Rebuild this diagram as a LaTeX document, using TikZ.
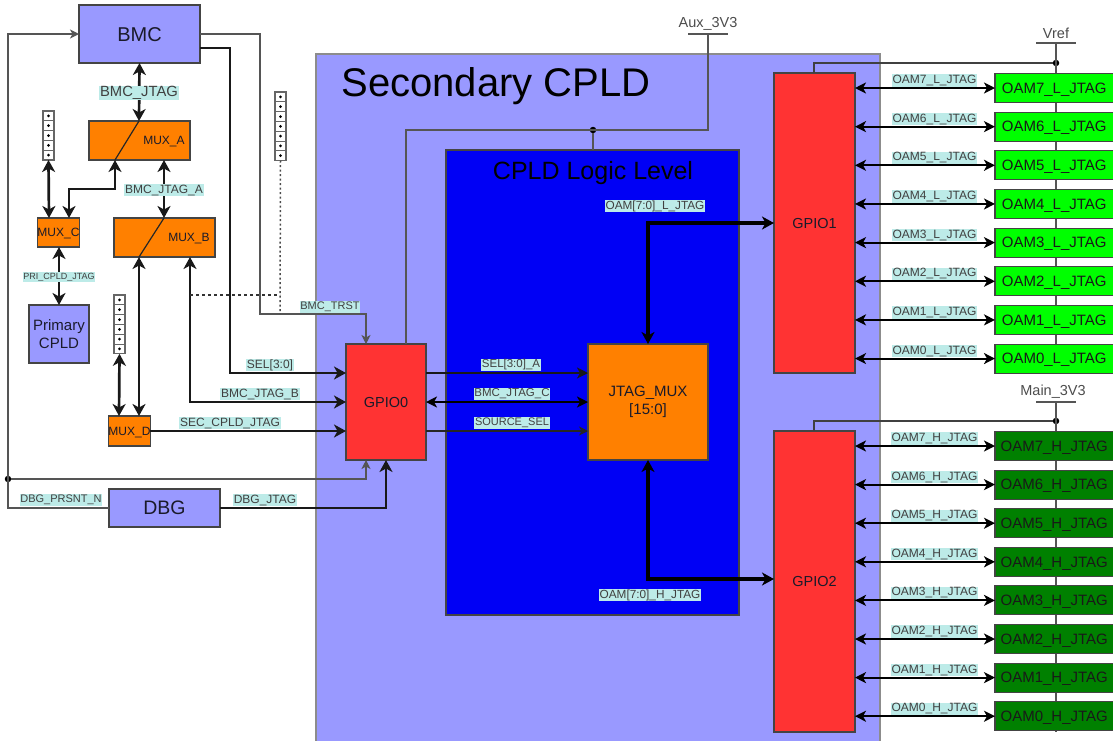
\documentclass[tikz,border=0pt]{standalone}
\usepackage{fontspec}
\setmainfont{Liberation Sans}
\usetikzlibrary{arrows.meta,calc}
\definecolor{peri}{HTML}{9999FF}
\definecolor{cred}{HTML}{FF3333}
\definecolor{corange}{HTML}{FF8000}
\definecolor{cgreen}{HTML}{00FF00}
\definecolor{dgreen}{HTML}{008000}
\definecolor{cblue}{HTML}{0000F5}
\definecolor{lbl}{HTML}{BDEBE8}
\definecolor{edge}{HTML}{444444}
\definecolor{wirec}{HTML}{555555}
\definecolor{txt}{HTML}{1A1A2A}
\newcommand{\fs}[1]{\fontsize{#1}{#1}\selectfont}
% \bx{name}{x1}{y1}{x2}{y2}{style}{text}
\newcommand{\bx}[7]{%
  \pgfmathsetmacro{\bw}{#4-#2}\pgfmathsetmacro{\bh}{#5-#3}%
  \pgfmathsetmacro{\bcx}{(#2+#4)/2}\pgfmathsetmacro{\bcy}{(#3+#5)/2}%
  \node[basebox,#6,minimum width=\bw pt,minimum height=\bh pt] (#1) at (\bcx,\bcy) {#7};}
% \hdr{name}{x1}{y1}{cells}
\newcommand{\hdr}[4]{%
  \pgfmathsetmacro{\hh}{#4*9.8}\pgfmathsetmacro{\hcx}{#2+5.5}\pgfmathsetmacro{\hcy}{#3+\hh/2}%
  \node[basebox,fill=white,draw=black!60,line width=1.1pt,minimum width=11pt,minimum height=\hh pt] (#1) at (\hcx,\hcy) {};
  \foreach \c in {1,...,#4}{
    \pgfmathsetmacro{\py}{#3+(\c-0.5)*9.8}\pgfmathsetmacro{\ly}{#3+\c*9.8}
    \fill[black] (\hcx,\py) circle (1.5pt);
    \ifnum\c<#4 \draw[black!60,line width=.8pt] (#2,\ly) -- ++(11,0);\fi
  }}
\tikzset{
  x=1pt,y=-1pt,
  basebox/.style={rectangle,inner sep=0pt,outer sep=0pt,draw=edge,line width=1.1pt,align=center,text=txt},
  onel/.style={font=\fs{#1},text height={0.8*#1 pt},text depth={0.1*#1 pt}},
  lab/.style={fill=lbl,inner sep=.8pt,text=black!75,font=\fs{12},anchor=center,yshift=-1pt},
  thin wire/.style={draw=wirec,line width=1.3pt},
  dark wire/.style={draw=black!85,line width=1.1pt},
  thick wire/.style={draw=black!90,line width=2.7pt},
  mid wire/.style={draw=black,line width=2.1pt},
  big/.tip={Stealth[length=12pt,width=13pt,inset=3.5pt]},
  med/.tip={Stealth[length=11pt,width=11pt,inset=3pt]},
  small/.tip={Stealth[length=9pt,width=9pt,inset=2.5pt]},
  dotn/.style={circle,fill=black,draw=none,inner sep=0pt,minimum size=6.5pt},
  railbar/.style={draw=wirec,line width=1.3pt},
  railtxt/.style={text=black!70,font=\fs{14.5},inner sep=0pt},
}
\begin{document}
\begin{tikzpicture}
\useasboundingbox (0,0) rectangle (1113,740);
% containers
\bx{sec}{316}{54}{880}{742}{fill=peri,draw=black!45}{}
\node[font=\fs{40},text=black,inner sep=0pt] (sectitle) at (496,86) {Secondary CPLD};
\bx{logic}{446}{150}{739}{615}{fill=cblue,draw=edge}{}
\node[font=\fs{25},text=black,inner sep=0pt] (logictitle) at (593,173) {CPLD Logic Level};
% boxes
\bx{bmc}{79}{5}{200}{63}{fill=peri,onel=20}{BMC}
\bx{muxa}{89}{121}{190}{160}{fill=corange}{}
\bx{muxb}{114}{218}{215}{257}{fill=corange}{}
\bx{muxc}{38}{218}{79}{247}{fill=corange,onel=12}{MUX\_C}
\bx{muxd}{109}{416}{150}{446}{fill=corange,onel=12}{MUX\_D}
\bx{prim}{29}{305}{89}{363}{fill=peri,font=\fs{15}}{\rule{0pt}{2pt}Primary\\[3pt]CPLD}
\bx{dbg}{109}{489}{220}{527}{fill=peri,onel=19.5}{DBG}
\bx{gpio0}{346}{344}{426}{460}{fill=cred,onel=14.5}{GPIO0}
\bx{jmux}{588}{344}{708}{460}{fill=corange,font=\fs{15}}{\rule{0pt}{2pt}JTAG\_MUX\\[3pt]{[15:0]}}
\bx{gpio1}{774}{73}{855}{373}{fill=cred,onel=14.5}{GPIO1}
\bx{gpio2}{774}{431}{855}{732}{fill=cred,onel=14.5}{GPIO2}
\node[font=\fs{12},text=txt,inner sep=0pt] (muxatxt) at (164,141.5) {MUX\_A};
\node[font=\fs{12},text=txt,inner sep=0pt] (muxbtxt) at (189,238.5) {MUX\_B};
% mux slants
\coordinate (maT) at (139,121); \coordinate (maB) at (115,160);
\coordinate (mbT) at (164,218); \coordinate (mbB) at (139,257);
\draw[black!85,line width=1.2pt] (maT) -- (maB);
\draw[black!85,line width=1.2pt] (mbT) -- (mbB);
% headers
\hdr{hleft}{43}{111}{5}
\hdr{hmid}{275}{92}{7}
\hdr{hlow}{114}{295}{6}
% ports
\coordinate (bmcE1) at (200,34); \coordinate (bmcE2) at (200,48); \coordinate (bmcW) at (79,34);
\coordinate (gTop1) at (366,344); \coordinate (gTop2) at (406,344);
\coordinate (gA) at (346,373); \coordinate (gB) at (346,402); \coordinate (gC) at (346,431);
\coordinate (gBot1) at (366,460); \coordinate (gBot2) at (386,460);
\coordinate (gR1) at (426,373); \coordinate (gR2) at (426,402); \coordinate (gR3) at (426,431);
\coordinate (jL1) at (588,373); \coordinate (jL2) at (588,402); \coordinate (jL3) at (588,431);
\coordinate (dbgW) at (109,508); \coordinate (dbgE) at (220,508);
\coordinate (muxdE) at (150,431);
% left loop and BMC outputs
\node[dotn] (dleft) at (8,479) {};
\draw[thin wire,-{small}] (dbgW) -- (8,508) -- (8,34) -- (bmcW);
\draw[thin wire,-{small}] (dleft) -- (366,479) -- (gBot1);
\draw[thin wire,-{small}] (bmcE1) -- (260,34) -- (260,314) -- (366,314) -- (gTop1);
\draw[thick wire,-{big}] (bmcE2) -- (230,48) -- (230,373) -- (gA);
\draw[thick wire,{big}-{big}] (bmc.south) -- (maT);
\draw[thick wire,{big}-{big}] (164,160) -- (mbT);
\draw[thick wire,{big}-{big}] (hleft.south) -- (49,218);
\draw[thick wire,{big}-{big}] (maB) -- (115,189) -- (69,189) -- (69,218);
\draw[thick wire,{big}-{big}] (59,247) -- (59,305);
\draw[thick wire,{big}-{big}] (mbB) -- (139,416);
\draw[thick wire,{big}-{big}] (190,257) -- (190,402) -- (gB);
\draw[thick wire,{big}-{big}] (hlow.south) -- (119,416);
\draw[thick wire,-{big}] (muxdE) -- (gC);
\draw[thick wire,-{big}] (dbgE) -- (386,508) -- (gBot2);
% dotted / dashed
\coordinate (dashE) at (280,295);
\coordinate (dotE) at (280,314);
\draw[draw=black!80,line width=1.2pt,dash pattern=on 3pt off 3pt] (190,295) -- (dashE);
\draw[draw=black!70,line width=1.5pt,dash pattern=on 2pt off 2.5pt] (hmid.south) -- (dotE);
% GPIO0 to JTAG mux
\draw[thick wire,-{med}] (gR1) -- (jL1);
\draw[mid wire,{med}-{med}] (gR2) -- (jL2);
\draw[dark wire,-{small}] (gR3) -- (jL3);
% JTAG mux to GPIO1/2
\coordinate (g1W) at (774,223); \coordinate (g2W) at (774,579);
\coordinate (jmT) at (648,344); \coordinate (jmB) at (648,460);
\draw[line width=3.3pt,draw=black,{big}-{big}] (jmT) -- (648,223) -- (g1W);
\draw[line width=3.3pt,draw=black,{big}-{big}] (jmB) -- (648,579) -- (g2W);
% Aux_3V3
\node[railtxt] (auxt) at (708,24) {Aux\_3V3};
\coordinate (auxm) at (708,34);
\draw[railbar] (688,34) -- (728,34);
\node[dotn] (dlogic) at (593,130) {};
\draw[thin wire] (auxm) -- (708,130) -- (406,130) -- (gTop2);
\draw[thin wire] (dlogic) -- (593,150);
% rails and green boxes
\node[railtxt] (vreft) at (1056,33) {Vref};
\node[railtxt] (maint) at (1053,392) {Main\_3V3};
\coordinate (vrefm) at (1056,43); \coordinate (mainm) at (1056,402);
\draw[railbar] (1036,43) -- (1076,43);
\draw[railbar] (1036,402) -- (1076,402);
\node[dotn] (dv) at (1056,63) {};
\node[dotn] (dm) at (1056,421) {};
\coordinate (g1T) at (814,73); \coordinate (g2T) at (814,431);
\draw[thin wire,draw=black!75] (dv) -- (814,63) -- (g1T);
\draw[thin wire,draw=black!75] (dm) -- (814,421) -- (g2T);
\draw[thin wire] (vrefm) -- (1056,73);
\draw[thin wire] (mainm) -- (1056,431);
\draw[thin wire] (1056,73) -- (1056,373);
\draw[thin wire] (1056,431) -- (1056,732);
\foreach \n/\i in {7/0,6/1,5/2,4/3,3/4,2/5,1/6,0/7}{
  \pgfmathsetmacro{\ya}{73.5+\i*38.65}\pgfmathsetmacro{\yb}{\ya+29}\pgfmathsetmacro{\ym}{\ya+14.5}\pgfmathsetmacro{\yl}{\ya+6}
  \bx{L\n}{995}{\ya}{1113.5}{\yb}{fill=cgreen,text=black!90,onel=15}{OAM\n\_L\_JTAG}
  \coordinate (gl\n) at (855,\ym);
  \draw[mid wire,{med}-{med}] (gl\n) -- (L\n.west);
  \node[lab] (ll\n) at (934.5,\yl) {OAM\n\_L\_JTAG};
  \pgfmathsetmacro{\yc}{431.5+\i*38.6}\pgfmathsetmacro{\yd}{\yc+29}\pgfmathsetmacro{\yn}{\yc+14.5}\pgfmathsetmacro{\yk}{\yc+6}
  \bx{H\n}{995}{\yc}{1113.5}{\yd}{fill=dgreen,text=black!90,onel=15}{OAM\n\_H\_JTAG}
  \coordinate (gh\n) at (855,\yn);
  \draw[mid wire,{med}-{med}] (gh\n) -- (H\n.west);
  \node[lab] (lh\n) at (934.5,\yk) {OAM\n\_H\_JTAG};
}
% labels
\node[lab,font=\fs{14.8}] (l1) at (139,92) {BMC\_JTAG};
\node[lab] (l2) at (164,189) {BMC\_JTAG\_A};
\node[lab,font=\fs{9}] (l3) at (59,276) {PRI\_CPLD\_JTAG};
\node[lab] (l4) at (270,364) {SEL[3:0]};
\node[lab] (l5) at (260,393) {BMC\_JTAG\_B};
\node[lab] (l6) at (230,422) {SEC\_CPLD\_JTAG};
\node[lab,font=\fs{11}] (l7) at (330,306) {BMC\_TRST};
\node[lab,font=\fs{11}] (l8) at (61,499) {DBG\_PRSNT\_N};
\node[lab] (l9) at (265,499) {DBG\_JTAG};
\node[lab,font=\fs{11.5}] (l10) at (511,364) {SEL[3:0]\_A};
\node[lab,font=\fs{11.5}] (l11) at (512,393) {BMC\_JTAG\_C};
\node[lab,font=\fs{11}] (l12) at (512,422) {SOURCE\_SEL};
\node[lab,font=\fs{11.8}] (l13) at (655,205) {OAM[7:0]\_L\_JTAG};
\node[lab,font=\fs{11.8}] (l14) at (650,594) {OAM[7:0]\_H\_JTAG};
\end{tikzpicture}
\end{document}
